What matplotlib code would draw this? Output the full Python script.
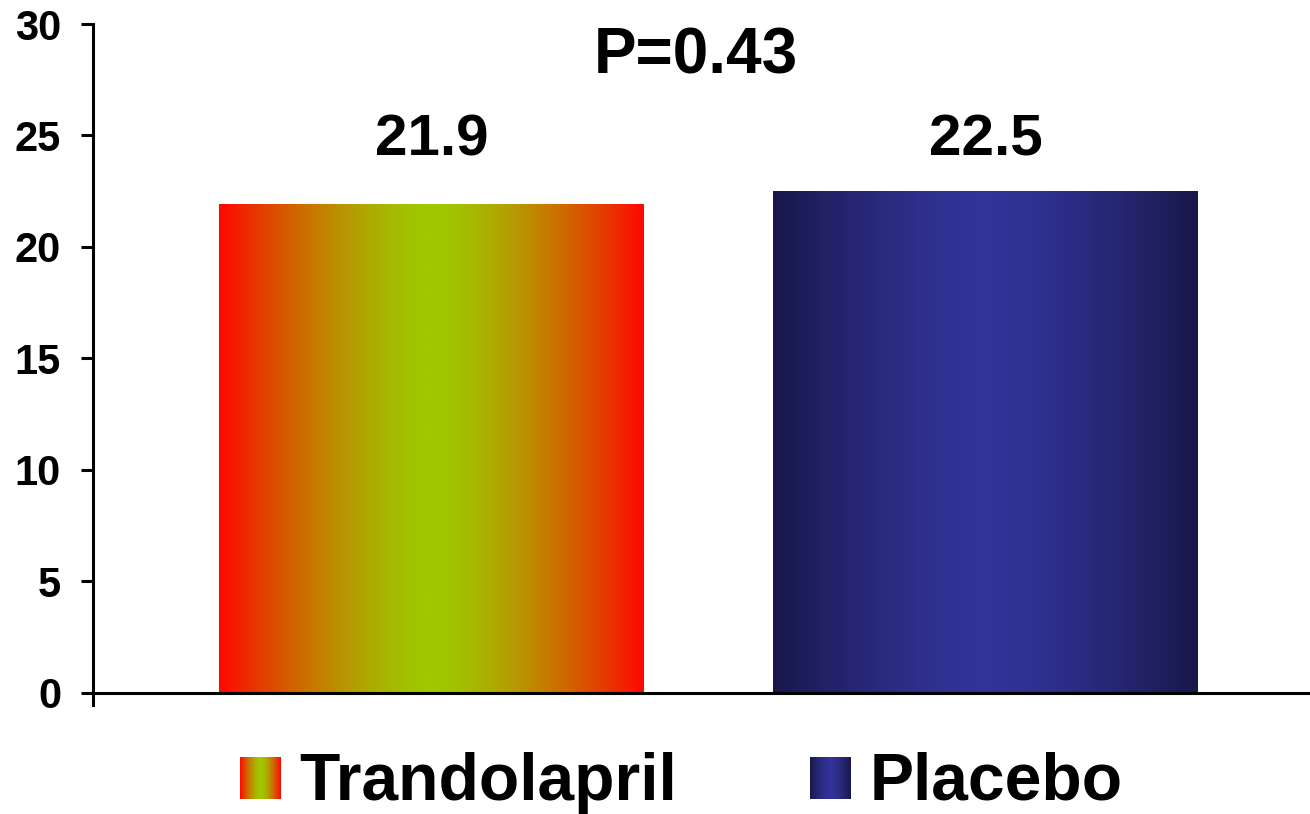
import numpy as np
import matplotlib.pyplot as plt
from matplotlib.colors import LinearSegmentedColormap

groups = ["Trandolapril", "Placebo"]
values = [21.9, 22.5]
value_labels = ["21.9", "22.5"]
p_label = "P=0.43"
yticks = [0, 5, 10, 15, 20, 25, 30]
edge_colors = ["#ff0800", "#18184a"]
mid_colors = ["#9fc800", "#333399"]

plt.rcParams['font.family'] = ['Liberation Sans', 'DejaVu Sans']
plt.rcParams['font.weight'] = 'bold'

W, H = 1310, 814
fig = plt.figure(figsize=(W / 100, H / 100), dpi=100)
ax = fig.add_axes([93 / W, (H - 705) / H, 1 - 93 / W, (705 - 24) / H])

x = np.arange(len(groups))
bars = ax.bar(x, values, width=0.767, color='none', zorder=2)

# horizontal gradient: edges dark/red, middle bright (wider bright centre)
grad = np.abs(np.linspace(-1, 1, 256))[None, :] ** 1.5
cmaps = []
for bar, ce, cm in zip(bars, edge_colors, mid_colors):
    cmap = LinearSegmentedColormap.from_list('g', [cm, ce])
    cmaps.append(cmap)
    x0 = bar.get_x()
    ax.imshow(grad, cmap=cmap, aspect='auto', interpolation='bilinear',
              extent=[x0, x0 + bar.get_width(), 0, bar.get_height()], zorder=2)

for xi, lab in zip(x, value_labels):
    ax.text(xi, 24.1, lab, ha='center', va='baseline', fontsize=42, fontweight='bold')
ax.text(0.477, 27.8, p_label, ha='center', va='baseline', fontsize=46, fontweight='bold')

ax.set_xlim(-0.611, 1.586)
ax.set_ylim(-0.55, 30)
ax.set_yticks(yticks)
ax.set_yticklabels([str(t) for t in yticks], fontsize=30, fontweight='bold')
ax.set_xticks([])
ax.tick_params(axis='y', direction='out', length=9, width=2.2, pad=14)

for s in ['top', 'right']:
    ax.spines[s].set_visible(False)
ax.spines['left'].set_linewidth(2.2)
ax.spines['bottom'].set_linewidth(2.2)
ax.spines['bottom'].set_position(('data', 0))
ax.spines['left'].set_zorder(3)
ax.spines['bottom'].set_zorder(3)

# legend drawn by hand so the swatches can carry the gradient
swatch_x = [240, 810]
text_x = [299, 870]
for sx, tx, cmap, name in zip(swatch_x, text_x, cmaps, groups):
    sax = fig.add_axes([sx / W, (H - 799) / H, 41 / W, 42 / H])
    sax.imshow(grad, cmap=cmap, aspect='auto', interpolation='bilinear')
    sax.set_axis_off()
    fig.text(tx / W, (H - 800) / H, name, ha='left', va='baseline',
             fontsize=47.5, fontweight='bold')

fig.savefig('out.png', dpi=100)
